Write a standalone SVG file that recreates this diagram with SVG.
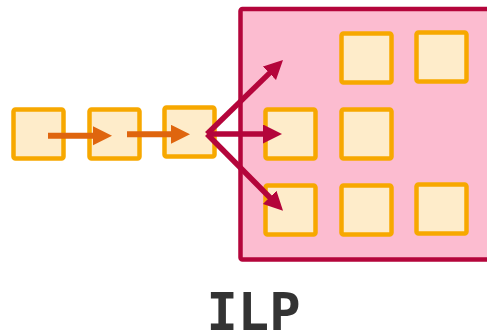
<svg xmlns="http://www.w3.org/2000/svg" width="487" height="333" viewBox="0 0 487 333">
  <style>
    .box { fill: #feecca; stroke: #f7a800; stroke-width: 4.5; }
    .core { fill: #fcbcd0; stroke: #b4053b; stroke-width: 4.5; }
    .seq { stroke: #df650e; stroke-width: 6; fill: none; }
    .par { stroke: #b4053b; stroke-width: 5.5; fill: none; }
    .label { font-family: "DejaVu Sans Mono", monospace; font-weight: bold; font-size: 52px; fill: #333333; }
  </style>
  <defs>
    <!-- arrowheads: the tip sits 12px beyond the end of the line -->
    <marker id="headSeq" markerUnits="userSpaceOnUse" markerWidth="20" markerHeight="20" refX="7" refY="9.5" orient="auto">
      <path d="M0,0 L19,9.5 L0,19 Z" fill="#df650e"/>
    </marker>
    <marker id="headPar" markerUnits="userSpaceOnUse" markerWidth="20" markerHeight="20" refX="7" refY="9.5" orient="auto">
      <path d="M0,0 L19,9.5 L0,19 Z" fill="#b4053b"/>
    </marker>
  </defs>

  <g id="core">
    <rect class="core" x="240.5" y="9" width="260" height="250.5" rx="2"/>
  </g>

  <g id="seq-1"><rect class="box" x="13.5" y="109.5" width="50" height="49" rx="2"/></g>
  <g id="seq-2"><rect class="box" x="89.5" y="109.5" width="50" height="49" rx="2"/></g>
  <g id="seq-3"><rect class="box" x="164.5" y="107.5" width="50" height="49" rx="2"/></g>

  <g id="unit-1"><rect class="box" x="341.5" y="33.5" width="50" height="49" rx="2"/></g>
  <g id="unit-2"><rect class="box" x="416.5" y="32.5" width="50" height="49" rx="2"/></g>
  <g id="unit-3"><rect class="box" x="265.5" y="109.5" width="50" height="49" rx="2"/></g>
  <g id="unit-4"><rect class="box" x="341.5" y="109.5" width="50" height="49" rx="2"/></g>
  <g id="unit-5"><rect class="box" x="265.5" y="185.5" width="50" height="49" rx="2"/></g>
  <g id="unit-6"><rect class="box" x="341.5" y="185.5" width="50" height="49" rx="2"/></g>
  <g id="unit-7"><rect class="box" x="416.5" y="184.5" width="50" height="49" rx="2"/></g>

  <g id="connectors">
    <line class="seq" x1="48" y1="135.7" x2="100" y2="135.7" marker-end="url(#headSeq)"/>
    <line class="seq" x1="127" y1="134.3" x2="178" y2="134.3" marker-end="url(#headSeq)"/>
    <line class="par" x1="207" y1="134" x2="274.4" y2="68.4" marker-end="url(#headPar)"/>
    <line class="par" x1="207" y1="134" x2="270" y2="134" marker-end="url(#headPar)"/>
    <line class="par" x1="207" y1="134" x2="274.6" y2="202.3" marker-end="url(#headPar)"/>
  </g>

  <text class="label" x="253.5" y="330" text-anchor="middle">ILP</text>
</svg>
